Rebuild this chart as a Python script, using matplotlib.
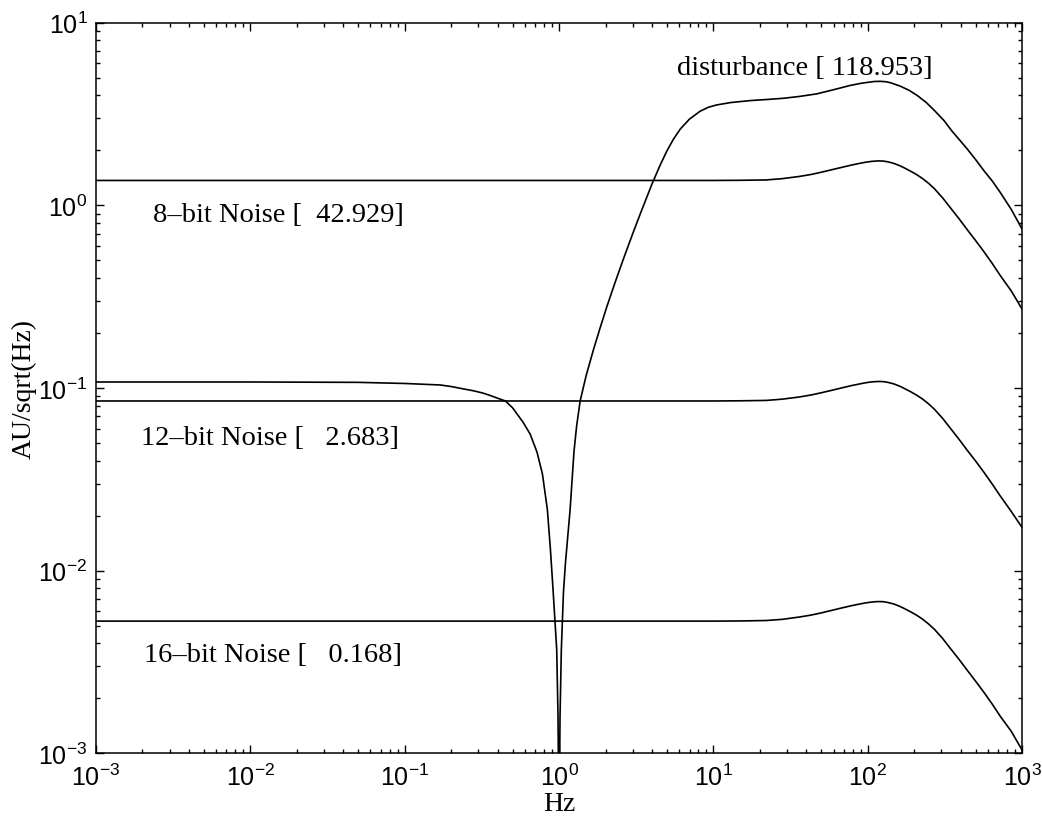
import math
import matplotlib
matplotlib.use("Agg")
import matplotlib.pyplot as plt
from matplotlib.ticker import LogLocator, FuncFormatter, NullFormatter

# --- data (Hz, AU/sqrt(Hz)) ---
freq_noise = [0.001, 1, 10, 15, 22, 28, 36, 43, 50, 58, 68, 78, 89, 97, 105,
              112, 118, 126, 135, 148, 162, 175, 190, 207, 225, 247, 270, 305,
              343, 390, 441, 500, 565, 640, 720, 850, 1000]
noise_8bit = [1.37, 1.37, 1.37, 1.373, 1.379, 1.402, 1.441, 1.478, 1.520, 1.566,
              1.617, 1.662, 1.701, 1.725, 1.741, 1.749, 1.753, 1.749, 1.733,
              1.697, 1.647, 1.595, 1.537, 1.475, 1.408, 1.324, 1.235, 1.101,
              0.970, 0.845, 0.736, 0.641, 0.558, 0.481, 0.414, 0.340, 0.270]
noise_12bit = [0.085, 0.085, 0.0850, 0.0852, 0.0856, 0.0870, 0.0894, 0.0917,
               0.0943, 0.0971, 0.1003, 0.1031, 0.1055, 0.1070, 0.1080, 0.1085,
               0.1087, 0.1085, 0.1075, 0.1053, 0.1022, 0.0989, 0.0954, 0.0915,
               0.0874, 0.0821, 0.0766, 0.0683, 0.0602, 0.0524, 0.0456, 0.0398,
               0.0346, 0.0298, 0.0257, 0.0211, 0.0172]
noise_16bit = [0.0053, 0.0053, 0.00530, 0.00531, 0.00534, 0.00542, 0.00558,
               0.00572, 0.00588, 0.00606, 0.00626, 0.00643, 0.00658, 0.00667,
               0.00673, 0.00677, 0.00678, 0.00677, 0.00670, 0.00657, 0.00637,
               0.00617, 0.00595, 0.00571, 0.00545, 0.00512, 0.00478, 0.00426,
               0.00375, 0.00327, 0.00285, 0.00248, 0.00216, 0.00186, 0.00160,
               0.00132, 0.00104]

freq_dist = [0.001, 0.01, 0.05, 0.1, 0.17, 0.2, 0.24, 0.28, 0.32, 0.36, 0.4,
             0.45, 0.5, 0.585, 0.65, 0.72, 0.78, 0.84, 0.88, 0.917, 0.966,
             0.985, 0.995, 1.0, 1.005, 1.015, 1.035, 1.068, 1.1, 1.18, 1.25,
             1.3, 1.37, 1.5, 1.67, 1.85, 2.04, 2.3, 2.62, 3.0, 3.36, 4.0, 4.5,
             5.0, 5.5, 6.1, 7.0, 8.2, 9.3, 10.5, 13, 17.3, 22, 28.4, 36, 46.6,
             60, 77, 90, 100, 110, 120, 130, 140, 162, 185, 209, 240, 270, 310,
             350, 390, 440, 500, 565, 640, 720, 850, 1000]
disturbance = [0.108, 0.108, 0.1075, 0.106, 0.104, 0.102, 0.099, 0.0966, 0.094,
               0.091, 0.088, 0.085, 0.078, 0.065, 0.056, 0.0446, 0.034, 0.0217,
               0.013, 0.0076, 0.0037, 0.0016, 0.00055, 0.0001, 0.00055, 0.0016,
               0.0037, 0.0076, 0.011, 0.0217, 0.045, 0.062, 0.085, 0.1175,
               0.162, 0.215, 0.279, 0.376, 0.513, 0.70, 0.90, 1.31, 1.65, 1.99,
               2.30, 2.62, 2.97, 3.28, 3.45, 3.55, 3.66, 3.75, 3.80, 3.86, 3.95,
               4.08, 4.3, 4.54, 4.66, 4.72, 4.77, 4.78, 4.76, 4.70, 4.50, 4.27,
               4.0, 3.65, 3.31, 2.93, 2.56, 2.30, 2.04, 1.78, 1.55, 1.36, 1.18,
               0.95, 0.74]

labels = ["8\u2013bit Noise [  42.929]", "12\u2013bit Noise [   2.683]",
          "16\u2013bit Noise [   0.168]", "disturbance [ 118.953]"]
label_x = [0.00235, 0.00195, 0.00206, 5.82]
label_y = [0.822, 0.0493, 0.00319, 5.25]

serif = ["Liberation Serif", "DejaVu Serif"]
sans = ["Liberation Sans", "DejaVu Sans"]
plt.rcParams["font.family"] = sans
plt.rcParams["mathtext.default"] = "regular"

fig = plt.figure(figsize=(10.42, 8.2), dpi=100)
ax = fig.add_axes([0.092, 0.080, 0.889, 0.891])

for y in (noise_8bit, noise_12bit, noise_16bit):
    ax.plot(freq_noise, y, color="black", lw=1.2)
ax.plot(freq_dist, disturbance, color="black", lw=1.2)

ax.set_xscale("log")
ax.set_yscale("log")
ax.set_xlim(1e-3, 1e3)
ax.set_ylim(1e-3, 1e1)


def pow10(v, pos):
    return r"$\mathregular{10^{%d}}$" % round(math.log10(v))


for a in (ax.xaxis, ax.yaxis):
    a.set_major_locator(LogLocator(base=10, numticks=20))
    a.set_minor_locator(LogLocator(base=10, subs=range(2, 10), numticks=20))
    a.set_minor_formatter(NullFormatter())
    a.set_major_formatter(FuncFormatter(pow10))

ax.tick_params(which="both", direction="in", top=True, right=True, width=1.0)
ax.tick_params(which="major", length=6, labelsize=18)
ax.tick_params(which="minor", length=3)
ax.tick_params(axis="x", which="major", pad=7)
ax.tick_params(axis="y", which="major", pad=6)
for s in ax.spines.values():
    s.set_linewidth(1.1)

for t, x, y in zip(labels, label_x, label_y):
    ax.text(x, y, t, family=serif, fontsize=20.5, ha="left", va="baseline")

ax.set_xlabel("Hz", family=serif, fontsize=20, labelpad=1)
ax.set_ylabel("AU/sqrt(Hz)", family=serif, fontsize=20, labelpad=1)

fig.savefig("out.png", dpi=100)
